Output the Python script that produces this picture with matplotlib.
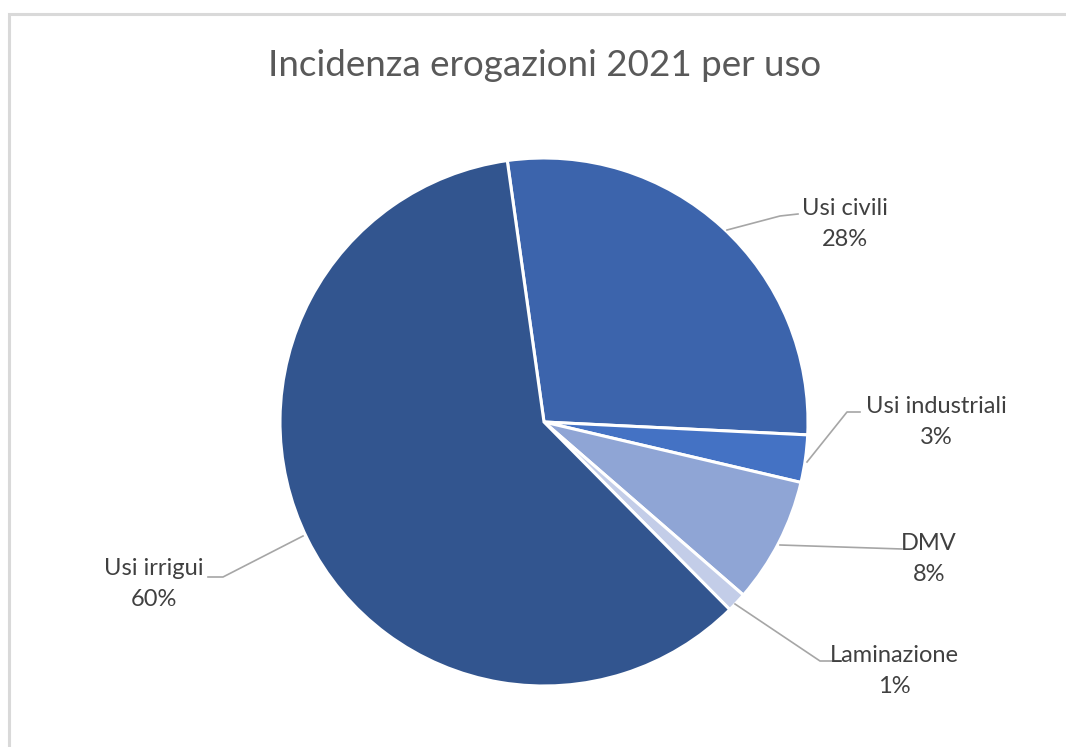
import matplotlib.pyplot as plt
from matplotlib.patches import Rectangle

# Data
labels = ['Usi civili', 'Usi industriali', 'DMV', 'Laminazione', 'Usi irrigui']
values = [28.0, 2.9, 7.7, 1.2, 60.2]
pct_labels = ['28%', '3%', '8%', '1%', '60%']
colors = ['#3C64AC', '#4472C4', '#8FA5D5', '#C3CDE8', '#32558F']

W, H = 1066, 747
fig = plt.figure(figsize=(W / 100, H / 100), dpi=100)
ax = fig.add_axes([0, 0, 1, 1])

# chart frame (right and bottom run off the picture)
fig.patches.append(Rectangle((8.5 / W, -0.05), 1.1, (H - 13.5) / H + 0.05,
                             transform=fig.transFigure, fill=False,
                             edgecolor='#D9D9D9', linewidth=2.2))

ax.pie(values, colors=colors, startangle=98, counterclock=False,
       center=(544, H - 422), radius=264, explode=[0.008, 0, 0, 0, 0],
       wedgeprops=dict(edgecolor='white', linewidth=2.2), frame=True)
ax.set_xlim(0, W)
ax.set_ylim(0, H)
ax.set_aspect('equal')
ax.axis('off')

font = 'Lato'

# label positions (pixel, from top) and leader lines
label_pos = [(845, 224), (936, 422), (929, 559), (894, 671), (154, 584)]
leaders = [
    [(727, 230), (780, 216), (798, 214)],
    [(807, 462), (847, 412), (860, 412)],
    [(780, 545), (902, 549)],
    [(735, 604), (820, 661), (833, 661)],
    [(303, 536), (223, 577), (208, 577)],
]

for lab, pct, (x, y), pts in zip(labels, pct_labels, label_pos, leaders):
    ax.text(x, H - y, lab + '\n' + pct, ha='center', va='center',
            fontsize=17, color='#404040', family=font, linespacing=1.55)
    ax.plot([p[0] for p in pts], [H - p[1] for p in pts],
            color='#A6A6A6', linewidth=1.2)

ax.text(545, H - 65, 'Incidenza erogazioni 2021 per uso', ha='center',
        va='center', fontsize=26.5, color='#595959', family=font)

fig.savefig('out.png', dpi=100)
